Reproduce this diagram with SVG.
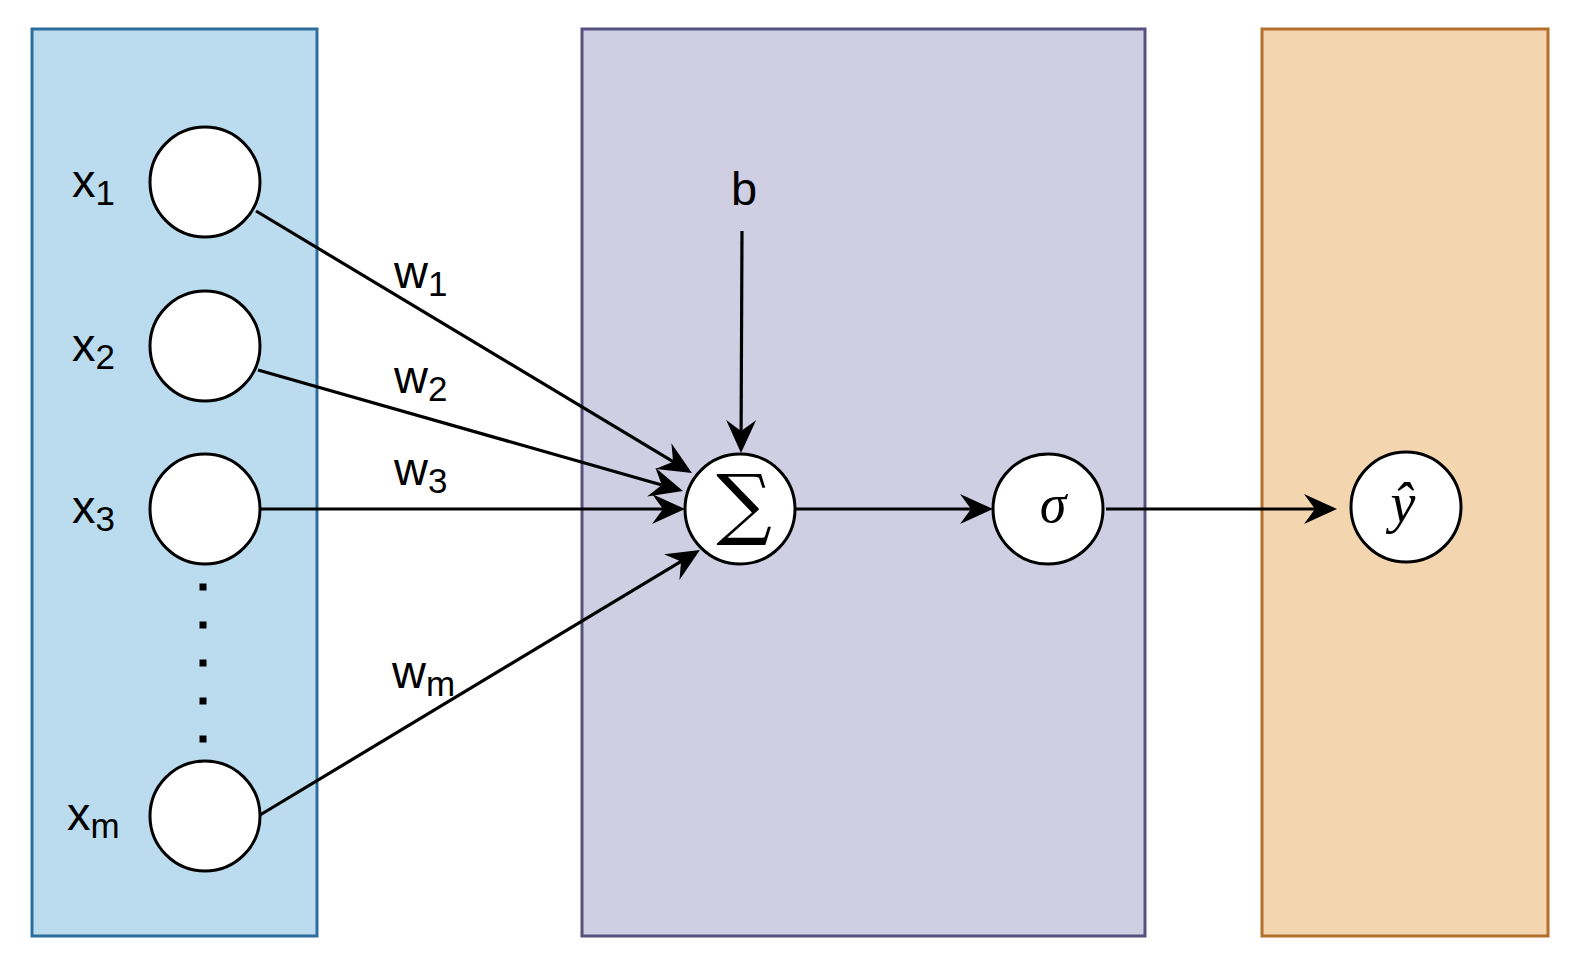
<svg xmlns="http://www.w3.org/2000/svg" width="1570" height="964" viewBox="0 0 1570 964">
<style>
.lbl{font-family:"Liberation Sans",Arial,sans-serif;font-size:47px;fill:#000}
.sub{font-size:35px}
.node{fill:#fff;stroke:#000;stroke-width:3}
.edge{fill:none;stroke:#000;stroke-width:3.2}
.math{font-family:"Liberation Serif","DejaVu Serif",serif;font-style:italic;fill:#000;text-anchor:middle}
</style>
<defs>
<marker id="arr" markerUnits="userSpaceOnUse" markerWidth="33" markerHeight="30" viewBox="0 0 33 30" refX="11" refY="15" orient="auto">
<path d="M0,0 L33,15 L0,30 L11,15 Z" fill="#000"/>
</marker>
</defs>
<rect width="1570" height="964" fill="#fff"/>
<g id="panel-input"><rect x="32" y="29" width="285" height="907" fill="#badcee" stroke="#2e6e9e" stroke-width="3"/></g>
<g id="panel-neuron"><rect x="582" y="29" width="563" height="907" fill="#d0cee2" stroke="#56517e" stroke-width="3"/></g>
<g id="panel-output"><rect x="1262" y="29" width="286" height="907" fill="#f3d6b0" stroke="#b46f2b" stroke-width="3"/></g>

<g id="x1"><circle class="node" cx="205" cy="182" r="55"/><text class="lbl" x="72" y="197">x<tspan class="sub" dy="8">1</tspan></text></g>
<g id="x2"><circle class="node" cx="205" cy="346" r="55"/><text class="lbl" x="72" y="361">x<tspan class="sub" dy="8">2</tspan></text></g>
<g id="x3"><circle class="node" cx="205" cy="509" r="55"/><text class="lbl" x="72" y="523">x<tspan class="sub" dy="8">3</tspan></text></g>
<g id="xm"><circle class="node" cx="205" cy="816" r="55"/><text class="lbl" x="67" y="830">x<tspan class="sub" dy="8">m</tspan></text></g>
<g id="dots" fill="#000">
<rect x="199.5" y="583.5" width="7" height="7"/>
<rect x="199.5" y="621.5" width="7" height="7"/>
<rect x="199.5" y="659.5" width="7" height="7"/>
<rect x="199.5" y="697.5" width="7" height="7"/>
<rect x="199.5" y="735.5" width="7" height="7"/>
</g>
<g id="bias"><text class="lbl" x="731" y="205">b</text></g>
<g id="sum"><circle class="node" cx="740" cy="509" r="55"/><text x="744" y="530" font-family="'DejaVu Serif',serif" font-size="78" text-anchor="middle">∑</text></g>
<g id="sigma"><circle class="node" cx="1048" cy="509" r="55"/><text class="math" x="1053" y="522" font-size="54">σ</text></g>
<g id="yhat"><circle class="node" cx="1406" cy="507" r="55"/><text class="math" x="1403" y="522" font-size="56">ŷ</text></g>

<g id="connectors">
<path class="edge" d="M256,211 L673.1,461.7" marker-end="url(#arr)"/>
<path class="edge" d="M258,370 L661.8,485" marker-end="url(#arr)"/>
<path class="edge" d="M260,509 L663,509" marker-end="url(#arr)"/>
<path class="edge" d="M260,815 L681.1,561.4" marker-end="url(#arr)"/>
<path class="edge" d="M742,231 L741.1,431" marker-end="url(#arr)"/>
<path class="edge" d="M795,509 L971,509" marker-end="url(#arr)"/>
<path class="edge" d="M1106,509 L1315,509" marker-end="url(#arr)"/>
</g>
<g id="weights">
<text class="lbl" x="394" y="288">w<tspan class="sub" dy="8">1</tspan></text>
<text class="lbl" x="394" y="393">w<tspan class="sub" dy="8">2</tspan></text>
<text class="lbl" x="394" y="485">w<tspan class="sub" dy="8">3</tspan></text>
<text class="lbl" x="392" y="688">w<tspan class="sub" dy="8">m</tspan></text>
</g>
</svg>
